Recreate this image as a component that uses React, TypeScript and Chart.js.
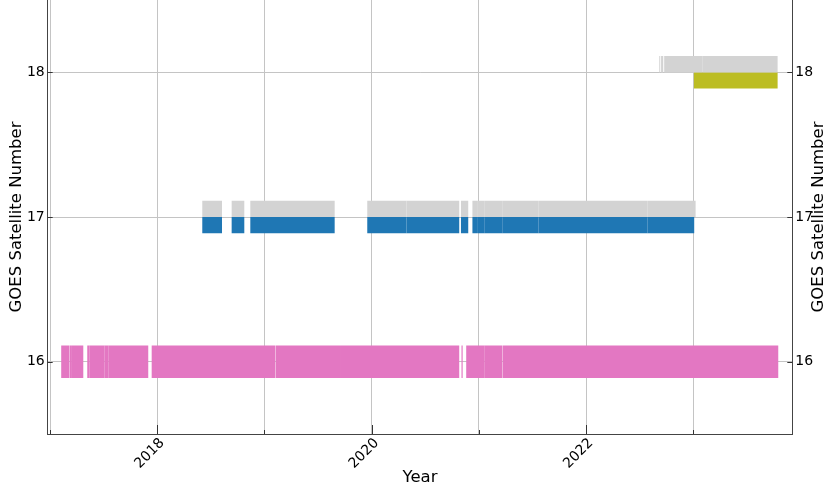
import React, { useEffect, useRef } from "react";
import { Chart, registerables } from "chart.js";

Chart.register(...registerables);

// ---- data (decimal years) ----
const goes16Segments: [number, number][] = [
  [2017.104, 2017.179],
  [2017.182, 2017.204],
  [2017.204, 2017.31],
  [2017.347, 2017.366],
  [2017.366, 2017.506],
  [2017.506, 2017.543],
  [2017.543, 2017.916],
  [2017.948, 2019.099],
  [2019.103, 2019.714],
  [2019.714, 2020.817],
  [2020.838, 2020.849],
  [2020.882, 2021.05],
  [2021.05, 2021.216],
  [2021.22, 2023.793],
];

const goes17BlueSegments: [number, number][] = [
  [2018.42, 2018.604],
  [2018.694, 2018.812],
  [2018.868, 2019.655],
  [2019.959, 2020.326],
  [2020.326, 2020.817],
  [2020.833, 2020.901],
  [2020.94, 2020.991],
  [2020.991, 2021.05],
  [2021.05, 2021.218],
  [2021.218, 2021.558],
  [2021.558, 2022.575],
  [2022.575, 2023.009],
];

const goes17GraySegments: [number, number][] = [
  [2018.42, 2018.604],
  [2018.694, 2018.812],
  [2018.868, 2019.655],
  [2019.959, 2020.326],
  [2020.326, 2020.817],
  [2020.833, 2020.901],
  [2020.94, 2020.991],
  [2020.991, 2021.05],
  [2021.05, 2021.218],
  [2021.218, 2021.558],
  [2021.558, 2022.575],
  [2022.575, 2023.022],
];

const goes18GraySegments: [number, number][] = [
  [2022.683, 2022.692],
  [2022.7, 2022.72],
  [2022.729, 2023.084],
  [2023.084, 2023.787],
];

const goes18OliveSegments: [number, number][] = [[2023.006, 2023.787]];

const satelliteNumbers = [16, 17, 18];
const yearTicks = [2017, 2018, 2019, 2020, 2021, 2022, 2023];
const xMin = 2016.978;
const xMax = 2023.924;
const yMin = 15.5;
const yMax = 18.5;

const FONT = "'DejaVu Sans', sans-serif";

function bars(segs: [number, number][], y: number) {
  return segs.map((s) => ({ x: [s[0], s[1]], y }));
}

const innerTicks = {
  id: "innerTicks",
  afterDraw(chart: any) {
    const { ctx, scales, chartArea } = chart;
    ctx.save();
    ctx.strokeStyle = "#333";
    ctx.lineWidth = 1;
    const xs = scales.x;
    for (const yr of yearTicks) {
      const px = Math.round(xs.getPixelForValue(yr)) + 0.5;
      const len = yr % 2 === 0 ? 9 : 4;
      ctx.beginPath();
      ctx.moveTo(px, chartArea.bottom);
      ctx.lineTo(px, chartArea.bottom - len);
      ctx.stroke();
    }
    const ys = scales.y;
    for (const v of satelliteNumbers) {
      const py = Math.round(ys.getPixelForValue(v)) + 0.5;
      ctx.beginPath();
      ctx.moveTo(chartArea.left, py);
      ctx.lineTo(chartArea.left + 5, py);
      ctx.moveTo(chartArea.right, py);
      ctx.lineTo(chartArea.right - 5, py);
      ctx.stroke();
    }
    // right axis title (reads bottom-to-top like the left one)
    ctx.fillStyle = "#000";
    ctx.font = `16.5px ${FONT}`;
    ctx.textAlign = "center";
    ctx.textBaseline = "middle";
    ctx.translate(818.5, (chartArea.top + chartArea.bottom) / 2);
    ctx.rotate(-Math.PI / 2);
    ctx.fillText("GOES Satellite Number", 0, 0);
    ctx.restore();
  },
};

const setYTicks = (s: any) => {
  s.ticks = satelliteNumbers.map((v) => ({ value: v }));
};
const setXTicks = (s: any) => {
  s.ticks = yearTicks.map((v) => ({ value: v }));
};

export default function App() {
  const ref = useRef<HTMLCanvasElement>(null);

  useEffect(() => {
    if (!ref.current) return;
    Chart.defaults.font.family = FONT;
    Chart.defaults.color = "#000";
    const common = {
      grouped: false,
      borderWidth: 0,
      inflateAmount: 0,
    };
    const chart = new Chart(ref.current, {
      type: "bar",
      data: {
        datasets: [
          { ...common, label: "GOES-16", data: bars(goes16Segments, 16), backgroundColor: "#e377c2", barThickness: 32.5 } as any,
          { ...common, label: "GOES-17 gray", data: bars(goes17GraySegments, 17.056), backgroundColor: "#d3d3d3", barThickness: 16.3 } as any,
          { ...common, label: "GOES-17", data: bars(goes17BlueSegments, 16.944), backgroundColor: "#1f77b4", barThickness: 16.3 } as any,
          { ...common, label: "GOES-18 gray", data: bars(goes18GraySegments, 18.056), backgroundColor: "#d3d3d3", barThickness: 16.3 } as any,
          { ...common, label: "GOES-18", data: bars(goes18OliveSegments, 17.944), backgroundColor: "#bcbd22", barThickness: 16.3 } as any,
        ],
      },
      options: {
        indexAxis: "y",
        responsive: false,
        animation: false,
        devicePixelRatio: 1,
        layout: { padding: 0, autoPadding: false },
        plugins: { legend: { display: false }, tooltip: { enabled: false } },
        scales: {
          x: {
            type: "linear",
            position: "bottom",
            min: xMin,
            max: xMax,
            grid: { color: "#c4c4c4", lineWidth: 1, drawTicks: false },
            border: { display: true, color: "#444", width: 1 },
            afterBuildTicks: setXTicks,
            ticks: {
              autoSkip: false,
              minRotation: 45,
              maxRotation: 45,
              padding: 1,
              labelOffset: 5,
              font: { size: 14 },
              color: "#000",
              callback: (v: any) => (Number(v) % 2 === 0 ? String(v) : ""),
            },
            title: { display: true, text: "Year", font: { size: 16.5 }, color: "#000", padding: { top: 0, bottom: 0 } },
            afterFit: (s: any) => {
              s.height = 54;
              s.paddingLeft = 0;
              s.paddingRight = 0;
            },
          },
          y: {
            type: "linear",
            position: "left",
            min: yMin,
            max: yMax,
            offset: false,
            grid: { color: "#c4c4c4", lineWidth: 1, drawTicks: false, offset: false },
            border: { display: true, color: "#444", width: 1 },
            afterBuildTicks: setYTicks,
            ticks: { padding: 3, font: { size: 14 }, color: "#000" },
            title: { display: true, text: "GOES Satellite Number", font: { size: 16.5 }, color: "#000", padding: { top: 6.6, bottom: 0 } },
            afterFit: (s: any) => {
              s.width = 47.7;
              s.paddingTop = 0;
              s.paddingBottom = 0;
            },
          },
          y2: {
            type: "linear",
            position: "right",
            display: true,
            min: yMin,
            max: yMax,
            offset: false,
            grid: { drawOnChartArea: false, drawTicks: false, offset: false },
            border: { display: true, color: "#444", width: 1 },
            afterBuildTicks: setYTicks,
            ticks: { padding: 3, font: { size: 14 }, color: "#000" },
            afterFit: (s: any) => {
              s.width = 35.7;
              s.paddingTop = 0;
              s.paddingBottom = 0;
            },
          },
        },
      } as any,
      plugins: [innerTicks],
    });
    return () => chart.destroy();
  }, []);

  return (
    <div style={{ position: "fixed", left: 0, top: 0, width: 828, height: 488, background: "#fff" }}>
      <canvas ref={ref} width={828} height={488} />
    </div>
  );
}
